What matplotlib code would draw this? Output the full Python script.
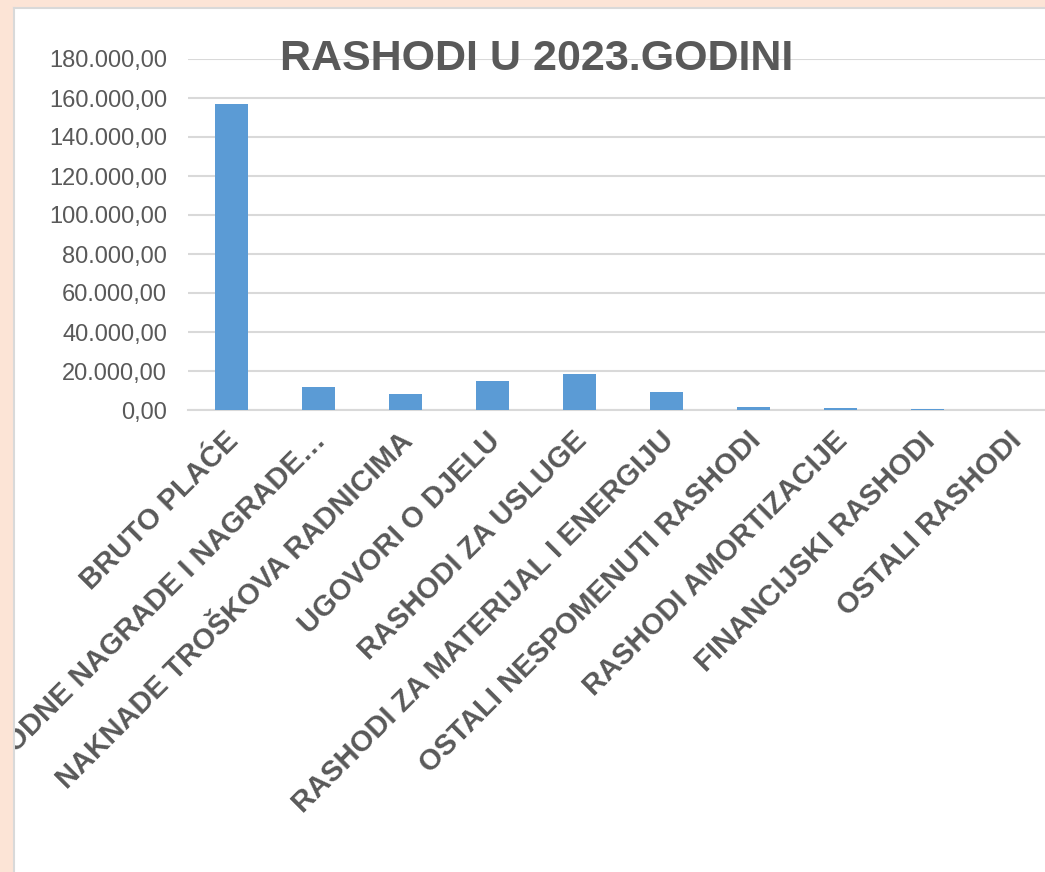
import matplotlib
matplotlib.use("Agg")
from matplotlib import pyplot as plt
from matplotlib.patches import Rectangle
from matplotlib.ticker import FuncFormatter
from matplotlib.transforms import ScaledTranslation

categories = [
    "BRUTO PLAĆE",
    "PRIGODNE NAGRADE I NAGRADE…",
    "NAKNADE TROŠKOVA RADNICIMA",
    "UGOVORI O DJELU",
    "RASHODI ZA USLUGE",
    "RASHODI ZA MATERIJAL I ENERGIJU",
    "OSTALI NESPOMENUTI RASHODI",
    "RASHODI AMORTIZACIJE",
    "FINANCIJSKI RASHODI",
    "OSTALI RASHODI",
]
values = [156900, 11650, 8050, 14700, 18450, 9400, 1400, 1000, 500, 150]
y_ticks = list(range(0, 180001, 20000))

text_gray = "#595959"
bar_blue = "#5B9BD5"
grid_gray = "#D9D9D9"
peach = "#FCE4D6"


def fmt_hr(v, pos=None):
    s = f"{v:,.2f}"
    return s.replace(",", "X").replace(".", ",").replace("X", ".")


def main():
    plt.rcParams["font.family"] = ["Liberation Sans", "DejaVu Sans"]

    W, H = 1045, 872
    fig = plt.figure(figsize=(W / 100, H / 100), dpi=100)
    fig.patch.set_facecolor("white")

    left, right, top, bottom = 188, 1058, 59, 410
    ax = fig.add_axes([left / W, 1 - bottom / H, (right - left) / W, (bottom - top) / H])

    x = list(range(len(categories)))
    ax.bar(x, values, width=0.39, color=bar_blue, zorder=3)

    ax.set_xlim(-0.5, len(categories) - 0.5)
    ax.set_ylim(0, 180000)
    ax.set_yticks(y_ticks)
    ax.yaxis.set_major_formatter(FuncFormatter(fmt_hr))
    ax.grid(axis="y", color=grid_gray, linewidth=1.5, zorder=0)
    ax.set_axisbelow(True)

    for side in ["top", "right", "left"]:
        ax.spines[side].set_visible(False)
    ax.spines["bottom"].set_color(grid_gray)
    ax.spines["bottom"].set_linewidth(1.5)

    ax.tick_params(axis="y", length=0, pad=15, labelsize=17, labelcolor=text_gray)
    ax.tick_params(axis="x", length=0, pad=12)
    ax.set_xticks(x)
    ax.set_xticklabels(categories, rotation=45, ha="right", va="top",
                       rotation_mode="anchor", fontsize=21, fontweight="bold",
                       color=text_gray)
    # nudge the slanted labels a bit to the left, as in the original
    shift = ScaledTranslation(-7 / 100, 0, fig.dpi_scale_trans)
    for lab in ax.get_xticklabels():
        lab.set_transform(lab.get_transform() + shift)

    fig.text(537 / W, 1 - 70 / H, "RASHODI U 2023.GODINI", ha="center",
             va="baseline", fontsize=31, fontweight="bold", color=text_gray,
             zorder=5)

    # outer peach frame of the sheet
    fig.patches.append(Rectangle((0, 0), 14 / W, 1, transform=fig.transFigure,
                                 facecolor=peach, edgecolor="none", zorder=10))
    fig.patches.append(Rectangle((0, 1 - 8 / H), 1, 8 / H, transform=fig.transFigure,
                                 facecolor=peach, edgecolor="none", zorder=10))
    fig.lines.append(plt.Line2D([14 / W, 14 / W], [0, 1 - 8 / H], transform=fig.transFigure,
                                color="#D9D9D9", linewidth=1.5, zorder=11))
    fig.lines.append(plt.Line2D([14 / W, 1], [1 - 8 / H, 1 - 8 / H], transform=fig.transFigure,
                                color="#D9D9D9", linewidth=1.5, zorder=11))

    fig.savefig("out.png", dpi=100)
    return


if __name__ == "__main__":
    main()
